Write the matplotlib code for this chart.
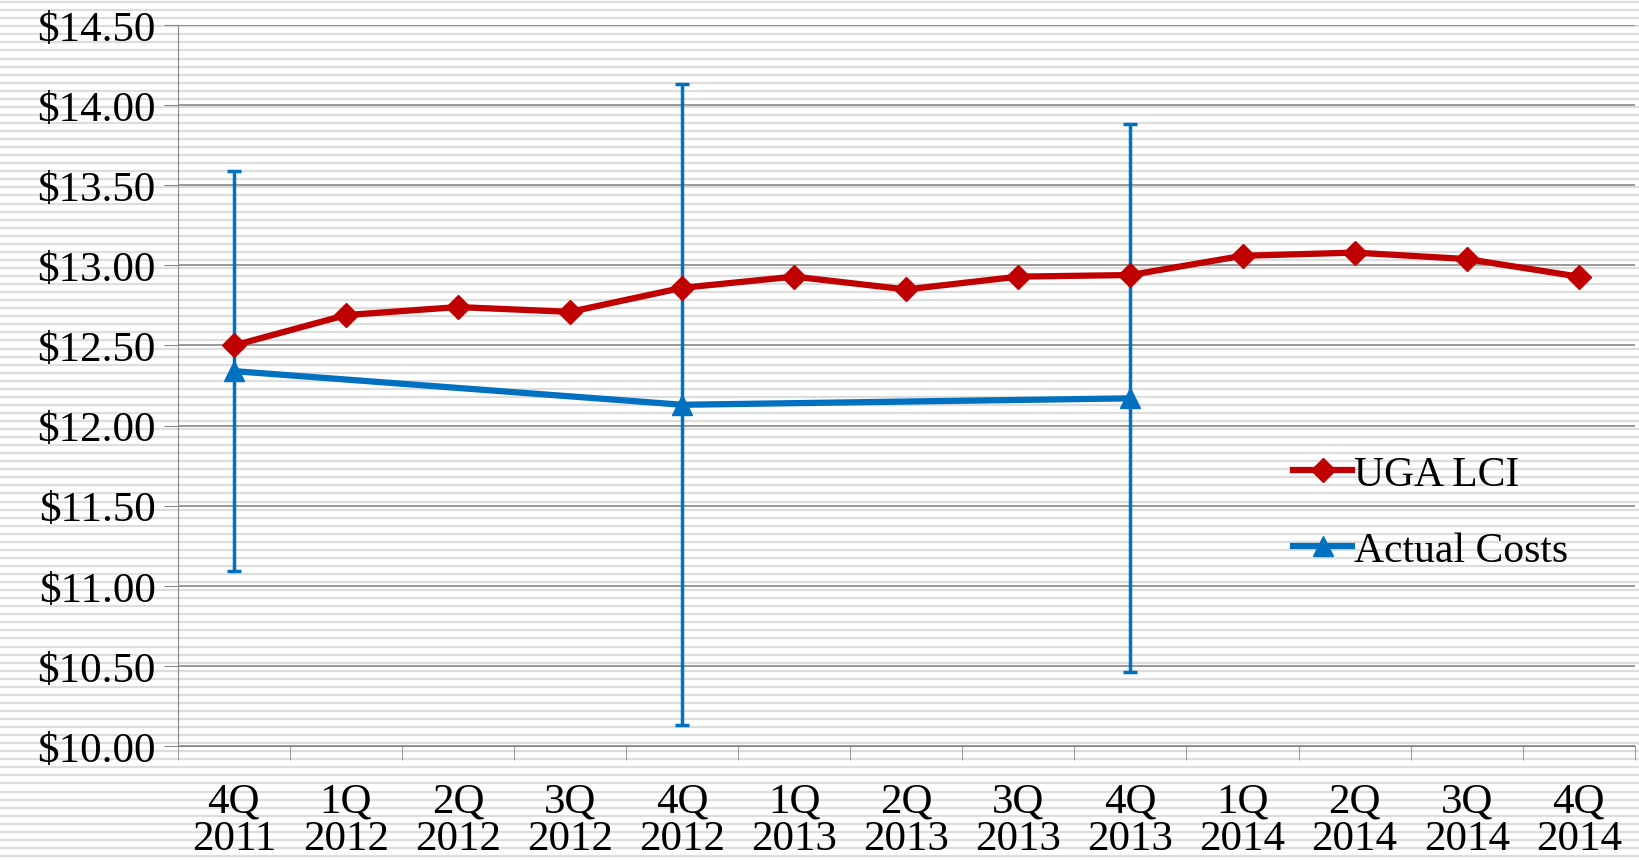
import numpy as np
import matplotlib.pyplot as plt

plt.rcParams['font.family'] = ['Liberation Serif', 'DejaVu Serif']

quarters = ["4Q\n2011", "1Q\n2012", "2Q\n2012", "3Q\n2012", "4Q\n2012", "1Q\n2013",
            "2Q\n2013", "3Q\n2013", "4Q\n2013", "1Q\n2014", "2Q\n2014", "3Q\n2014", "4Q\n2014"]
uga_lci = [12.50, 12.69, 12.74, 12.71, 12.86, 12.93, 12.85, 12.93, 12.94, 13.06, 13.08, 13.04, 12.93]
actual_idx = [0, 4, 8]
actual = [12.34, 12.13, 12.17]
actual_hi = [13.59, 14.13, 13.88]
actual_lo = [11.09, 10.13, 10.46]

W, H = 1568, 824  # reference coordinate frame
fig = plt.figure(figsize=(16.4, 8.62), dpi=100)

# striped background
bg = fig.add_axes([0, 0, 1, 1], zorder=-10)
bg.set_xlim(0, W)
bg.set_ylim(H, 0)
for y in np.arange(3, H, 7.7):
    bg.axhline(y, color='#dddddd', lw=1.6)
bg.axis('off')

ax = fig.add_axes([170/W, 1 - 714/H, (1563-170)/W, (714-25)/H])
ax.patch.set_alpha(0)
x = np.arange(len(quarters))
ax.plot(x, uga_lci, color='#c00000', lw=4.5, marker='D', ms=12, label='UGA LCI', zorder=4)
err = [np.subtract(actual, actual_lo), np.subtract(actual_hi, actual)]
ax.errorbar(actual_idx, actual, yerr=err, fmt='none', ecolor='#0070c0',
            elinewidth=2.5, capsize=5, capthick=2.5, zorder=3)
ax.plot(actual_idx, actual, color='#0070c0', lw=4.5, marker='^', ms=15,
        label='Actual Costs', zorder=3)

ax.set_xlim(-0.5, 12.5)
ax.set_ylim(10, 14.5)
ax.set_yticks(np.arange(10, 14.51, 0.5))
ax.set_yticklabels([f"${v:.2f}" for v in np.arange(10, 14.51, 0.5)], fontsize=31)
ax.set_xticks(x)
ax.set_xticklabels(quarters, fontsize=31, linespacing=0.95)
ax.set_xticks(np.arange(-0.5, 12.6, 1), minor=True)
ax.tick_params(axis='x', which='major', length=0, pad=26)
ax.tick_params(axis='x', which='minor', length=10, color='#888888')
ax.tick_params(axis='y', length=10, color='#888888', pad=6)
ax.grid(axis='y', color='#888888', lw=1.2)
for s in ['top', 'right']:
    ax.spines[s].set_visible(False)
for s in ['left', 'bottom']:
    ax.spines[s].set_color('#888888')
ax.legend(loc='upper left', bbox_to_anchor=(0.74, 0.455), frameon=False, fontsize=30,
          handlelength=1.4, handletextpad=0.05, labelspacing=0.9)

fig.savefig('out.png')
